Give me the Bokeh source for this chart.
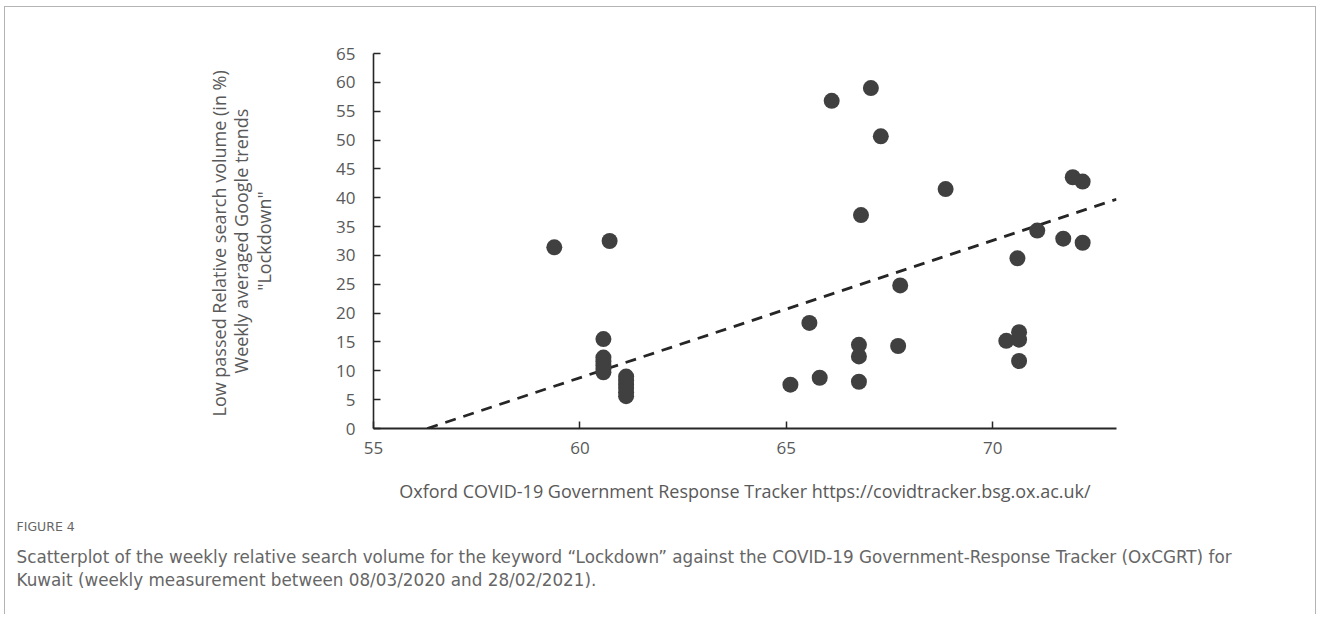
from bokeh.plotting import figure
from bokeh.models import Range1d, FixedTicker, Title
from bokeh.embed import file_html
from bokeh.resources import INLINE

# ---- data ----
oxcgrt = [59.38, 60.72,
          60.57, 60.57, 60.57, 60.57, 60.57, 60.57,
          61.12, 61.12, 61.12, 61.12, 61.12, 61.12,
          65.10, 65.56, 65.81, 66.10, 66.81,
          66.76, 66.76, 66.76,
          67.05, 67.29, 67.76, 67.71, 68.86, 70.33, 70.60,
          70.64, 70.64, 70.64,
          71.08, 71.71, 71.94, 72.18, 72.18]
lockdown = [31.4, 32.5,
            15.5, 12.3, 11.6, 10.9, 10.3, 9.75,
            9.0, 8.3, 7.6, 7.0, 6.3, 5.6,
            7.6, 18.3, 8.8, 56.8, 37.0,
            14.5, 12.5, 8.1,
            59.0, 50.65, 24.8, 14.3, 41.5, 15.2, 29.5,
            16.7, 15.4, 11.7,
            34.3, 32.9, 43.55, 42.8, 32.2]
trend_slope = 2.38
trend_intercept = -134.0
x_ticks = [55, 60, 65, 70]
y_ticks = list(range(0, 70, 5))
x_min, x_max = 55, 73
y_min, y_max = 0, 65

x_title = "Oxford COVID-19 Government Response Tracker https://covidtracker.bsg.ox.ac.uk/"
y_title = 'Low passed Relative search volume  (in %)\nWeekly averaged Google trends\n"Lockdown"'
fig_label = "FIGURE 4"
caption1 = ("Scatterplot of the weekly relative search volume for the keyword \u201cLockdown\u201d "
            "against the COVID-19 Government-Response Tracker (OxCGRT) for")
caption2 = "Kuwait (weekly measurement between 08/03/2020 and 28/02/2021)."

FONT = "Open Sans"
CAP_FONT = "DejaVu Sans"
TXT = "#595959"
AX = "#262626"

p = figure(width=1312, height=608, output_backend="svg", toolbar_location=None,
           x_range=Range1d(x_min, x_max), y_range=Range1d(y_min, y_max),
           min_border_left=368, min_border_right=201, min_border_top=46,
           min_border_bottom=187)
p.styles = {"margin-left": "4px", "margin-top": "6px",
            "border-top": "1px solid #b4b4b4", "border-left": "1px solid #b4b4b4",
            "border-right": "1px solid #b4b4b4"}
p.outline_line_color = None
p.grid.visible = False
p.background_fill_color = "white"
p.border_fill_color = "white"

# trend line (y = a*x + b), drawn from where it crosses 0 to the end of the axis
tx0 = -trend_intercept / trend_slope
tx = [tx0, x_max]
ty = [trend_slope * v + trend_intercept for v in tx]
p.line(tx, ty, line_color=AX, line_width=2.8, line_dash="11 8")

p.scatter(oxcgrt, lockdown, size=16, fill_color="#404040", line_color=None)

for ax in (p.xaxis[0], p.yaxis[0]):
    ax.axis_line_color = AX
    ax.major_tick_line_color = AX
    ax.major_tick_in = 7
    ax.major_tick_out = 0
    ax.minor_tick_line_color = None
    ax.major_label_text_font = FONT
    ax.major_label_text_font_size = "17px"
    ax.major_label_text_color = TXT
    ax.axis_label_text_font = FONT
    ax.axis_label_text_font_size = "18px"
    ax.axis_label_text_color = TXT
    ax.axis_label_text_font_style = "normal"

p.xaxis.ticker = FixedTicker(ticks=x_ticks)
p.yaxis.ticker = FixedTicker(ticks=y_ticks)
p.xaxis.axis_line_width = 2.2
p.xaxis.major_tick_line_width = 1.5
p.yaxis.axis_line_width = 1.6
p.yaxis.major_tick_line_width = 1.5
p.xaxis.major_label_standoff = 13
p.yaxis.major_label_standoff = 18
p.xaxis.axis_label = x_title
p.yaxis.axis_label = y_title
p.xaxis.axis_label_standoff = 22
p.yaxis.axis_label_standoff = 57
p.yaxis.axis_label_text_line_height = 0.94

p.add_layout(Title(text=fig_label, align="left", offset=-357, standoff=22,
                   text_font=CAP_FONT, text_font_size="12.5px", text_color="#666666",
                   text_font_style="normal"), "below")
p.add_layout(Title(text=caption1, align="left", offset=-357, standoff=1,
                   text_font=CAP_FONT, text_font_size="16.8px", text_color="#666666",
                   text_font_style="normal"), "below")
p.add_layout(Title(text=caption2, align="left", offset=-357, standoff=0,
                   text_font=CAP_FONT, text_font_size="16.8px", text_color="#666666",
                   text_font_style="normal"), "below")

open("out.html", "w").write(file_html(p, INLINE))
